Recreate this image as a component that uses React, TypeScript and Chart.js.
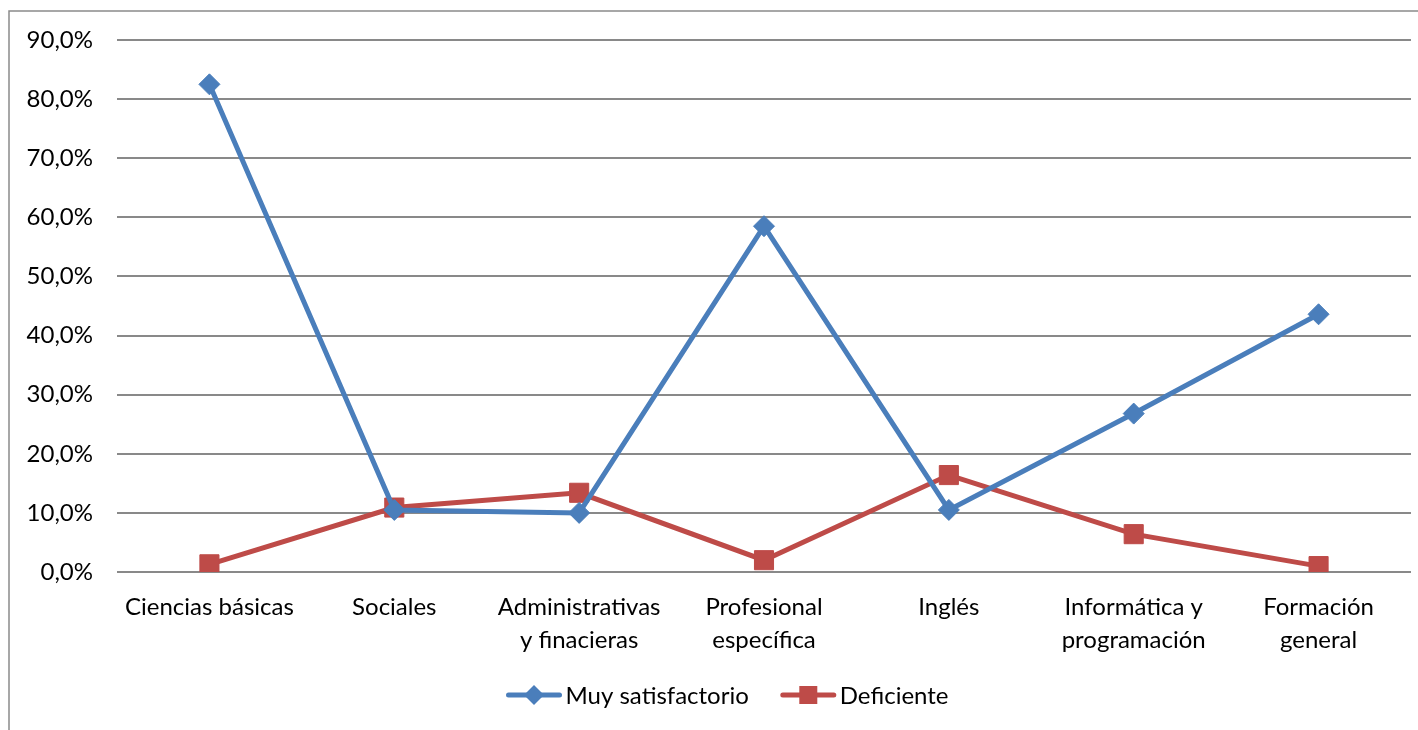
import React, { useEffect, useRef } from "react";
import { Chart, registerables } from "chart.js";

Chart.register(...registerables);

const categories: (string | string[])[] = [
  "Ciencias básicas",
  "Sociales",
  ["Administrativas", "y finacieras"],
  ["Profesional", "específica"],
  "Inglés",
  ["Informática y", "programación"],
  ["Formación", "general"],
];
const muySatisfactorio = [82.5, 10.5, 10.0, 58.5, 10.5, 26.8, 43.6];
const deficiente = [1.3, 10.9, 13.4, 2.0, 16.4, 6.4, 1.0];
const seriesNames = ["Muy satisfactorio", "Deficiente"];
const yMin = 0;
const yMax = 90;
const yStep = 10;

const BLUE = "#4A7EBB";
const RED = "#BE4B48";
const FONT = "Lato";

const frameAndLegend = {
  id: "frameAndLegend",
  afterDraw(chart: any) {
    const ctx = chart.ctx as CanvasRenderingContext2D;
    ctx.save();
    // outer frame (only left and top edges visible)
    ctx.strokeStyle = "#8a8a8a";
    ctx.lineWidth = 1.5;
    ctx.beginPath();
    ctx.moveTo(9, chart.height + 5);
    ctx.lineTo(9, 11);
    ctx.lineTo(chart.width + 5, 11);
    ctx.stroke();

    // legend
    ctx.font = `24px ${FONT}`;
    ctx.textBaseline = "middle";
    ctx.fillStyle = "#000";
    const lineLen = 55;
    const gap = 4;
    const itemGap = 32;
    const ds = chart.data.datasets;
    const widths = ds.map((d: any) => ctx.measureText(d.label).width);
    let total = 0;
    ds.forEach((_: any, i: number) => {
      total += lineLen + gap + widths[i] + (i < ds.length - 1 ? itemGap : 0);
    });
    const cy = 695;
    let x = 727.5 - total / 2;
    ds.forEach((d: any, i: number) => {
      ctx.strokeStyle = d.borderColor;
      ctx.lineWidth = 5;
      ctx.lineCap = "round";
      ctx.beginPath();
      ctx.moveTo(x + 2, cy);
      ctx.lineTo(x + lineLen - 2, cy);
      ctx.stroke();
      ctx.fillStyle = d.pointBackgroundColor;
      const mx = x + lineLen / 2;
      ctx.beginPath();
      if (d.pointStyle === "rectRot") {
        ctx.moveTo(mx - 10, cy);
        ctx.lineTo(mx, cy - 10);
        ctx.lineTo(mx + 10, cy);
        ctx.lineTo(mx, cy + 10);
        ctx.closePath();
      } else {
        ctx.rect(mx - 9, cy - 9, 18, 18);
      }
      ctx.fill();
      ctx.fillStyle = "#000";
      ctx.fillText(d.label, x + lineLen + gap, cy + 1);
      x += lineLen + gap + widths[i] + itemGap;
    });
    ctx.restore();
  },
};

export default function App() {
  const ref = useRef<HTMLCanvasElement | null>(null);
  useEffect(() => {
    if (!ref.current) return;
    const chart = new Chart(ref.current, {
      type: "line",
      data: {
        labels: categories,
        datasets: [
          {
            label: seriesNames[0],
            data: muySatisfactorio,
            borderColor: BLUE,
            backgroundColor: BLUE,
            pointBackgroundColor: BLUE,
            pointBorderColor: BLUE,
            pointStyle: "rectRot",
            pointRadius: 10.5,
            pointBorderWidth: 1,
            borderWidth: 5,
            tension: 0,
          },
          {
            label: seriesNames[1],
            data: deficiente,
            borderColor: RED,
            backgroundColor: RED,
            pointBackgroundColor: RED,
            pointBorderColor: RED,
            pointStyle: "rect",
            pointRadius: 13.5,
            pointBorderWidth: 1,
            borderWidth: 5,
            tension: 0,
          },
        ],
      },
      options: {
        responsive: false,
        animation: false,
        devicePixelRatio: 1,
        layout: { autoPadding: false, padding: { left: 0, top: 40, right: 7, bottom: 48 } },
        plugins: {
          legend: { display: false },
          tooltip: { enabled: false },
        },
        scales: {
          x: {
            offset: true,
            grid: { display: false },
            border: { display: false },
            ticks: {
              color: "#000",
              padding: 11,
              font: { family: FONT, size: 24, lineHeight: 1.375 },
              maxRotation: 0,
              autoSkip: false,
            },
            afterFit: (s: any) => {
              s.height = 110;
            },
          },
          y: {
            min: yMin,
            max: yMax,
            border: { display: false },
            grid: { color: "#898989", lineWidth: 2, drawTicks: false },
            ticks: {
              stepSize: yStep,
              color: "#000",
              padding: 24,
              font: { family: FONT, size: 24 },
              callback: (v: any) => Number(v).toFixed(1).replace(".", ",") + "%",
            },
            afterFit: (s: any) => {
              s.width = 117;
            },
          },
        },
      },
      plugins: [frameAndLegend],
    });
    return () => chart.destroy();
  }, []);
  return (
    <div style={{ position: "fixed", left: 0, top: 0, width: 1418, height: 730, background: "#fff" }}>
      <canvas ref={ref} width={1418} height={730} style={{ display: "block" }} />
    </div>
  );
}
